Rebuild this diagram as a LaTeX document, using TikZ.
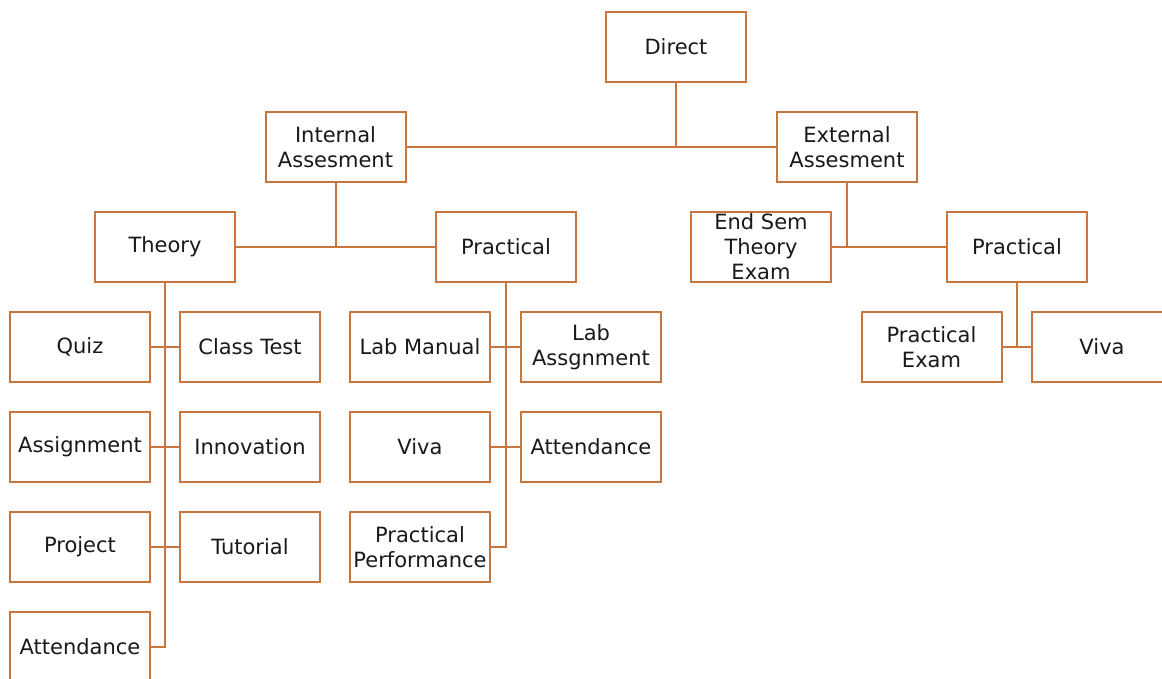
\documentclass[tikz,border=0pt]{standalone}
\usepackage{fontspec}
\setmainfont{DejaVu Sans}
\definecolor{edge}{RGB}{200,118,62}
\definecolor{txt}{RGB}{25,25,25}
\begin{document}
\begin{tikzpicture}[x=1pt,y=-1pt,
  box/.style={draw=edge,line width=2pt,fill=white,minimum width=140pt,minimum height=70pt,inner sep=0pt,align=center,text=txt,font=\fontsize{21}{25}\selectfont},
  conn/.style={draw=edge,line width=2pt}]
\useasboundingbox (0,0) rectangle (1162,678);
\clip (0,0) rectangle (1162,678);
% nodes
\node[box] (dir) at (676,47) {Direct};
\node[box] (int) at (335.5,147) {Internal\\Assesment};
\node[box] (ext) at (847,147) {External\\Assesment};
\node[box] (th) at (165,247) {Theory};
\node[box] (pr) at (506,247) {Practical};
\node[box] (es) at (761,247) {End Sem\\Theory\\Exam};
\node[box] (pr2) at (1017,247) {Practical};
\node[box] (quiz) at (80,347) {Quiz};
\node[box] (ct) at (250,347) {Class Test};
\node[box] (asg) at (80,447) {Assignment};
\node[box] (inn) at (250,447) {Innovation};
\node[box] (proj) at (80,547) {Project};
\node[box] (tut) at (250,547) {Tutorial};
\node[box] (att) at (80,647) {Attendance};
\node[box] (lm) at (420,347) {Lab Manual};
\node[box] (la) at (591,347) {Lab\\Assgnment};
\node[box] (viva) at (420,447) {Viva};
\node[box] (att2) at (591,447) {Attendance};
\node[box] (pp) at (420,547) {Practical\\Performance};
\node[box] (pe) at (931.5,347) {Practical\\Exam};
\node[box] (viva2) at (1102,347) {Viva};
% connectors
\coordinate (j1) at (dir.south |- int.east);
\draw[conn] (dir.south) -- (j1);
\draw[conn] (int.east) -- (ext.west);
\coordinate (j2) at (int.south |- th.east);
\draw[conn] (int.south) -- (j2);
\draw[conn] (th.east) -- (pr.west);
\coordinate (j3) at (ext.south |- es.east);
\draw[conn] (ext.south) -- (j3);
\draw[conn] (es.east) -- (pr2.west);
% theory column
\coordinate (j4) at (th.south |- att.east);
\draw[conn] (th.south) -- (j4) -- (att.east);
\draw[conn] (quiz.east) -- (ct.west);
\draw[conn] (asg.east) -- (inn.west);
\draw[conn] (proj.east) -- (tut.west);
% practical column
\coordinate (j5) at (pr.south |- pp.east);
\draw[conn] (pr.south) -- (j5) -- (pp.east);
\draw[conn] (lm.east) -- (la.west);
\draw[conn] (viva.east) -- (att2.west);
% right practical
\coordinate (j6) at (pr2.south |- pe.east);
\draw[conn] (pr2.south) -- (j6);
\draw[conn] (pe.east) -- (viva2.west);
\end{tikzpicture}
\end{document}
